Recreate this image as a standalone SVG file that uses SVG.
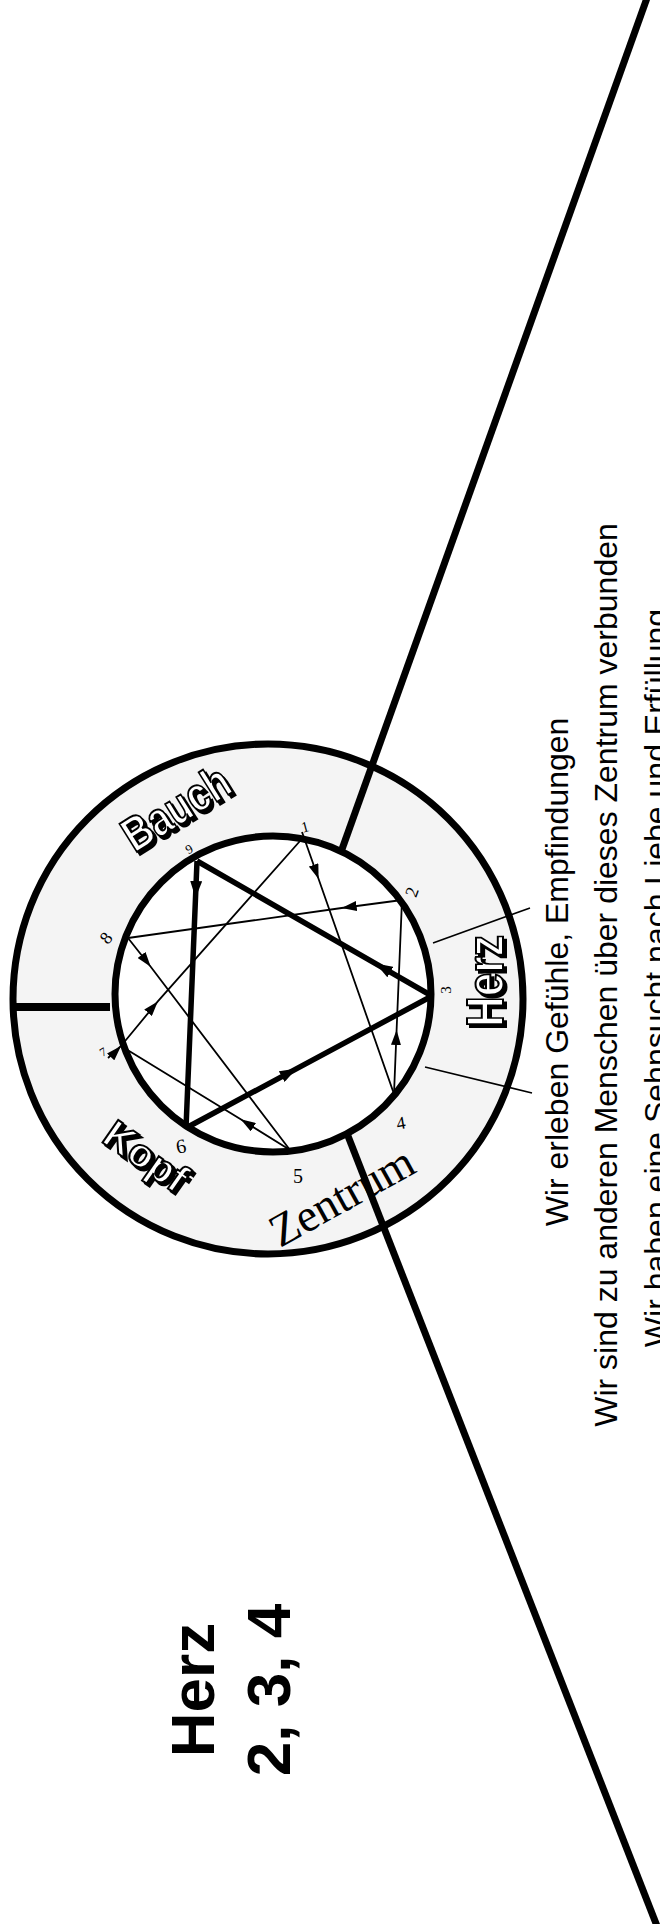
<svg xmlns="http://www.w3.org/2000/svg" width="660" height="1924" viewBox="0 0 660 1924">
<style>
.thick{fill:none;stroke:#000;stroke-width:5.5}
.thin{fill:none;stroke:#000;stroke-width:1.8}
.axis{fill:none;stroke:#000;stroke-width:7;stroke-linecap:butt}
.tick{fill:none;stroke:#000;stroke-width:1.6}
.num{font-family:"Liberation Serif",serif;fill:#000;text-anchor:middle;dominant-baseline:central}
.zone{font-family:"Liberation Sans",Arial,sans-serif;font-weight:bold;fill:#fff;stroke:#000;stroke-width:2;text-anchor:middle;dominant-baseline:central}
.body{font-family:"Liberation Sans",Arial,sans-serif;font-size:32px;fill:#000;text-anchor:middle}
.title{font-family:"Liberation Sans",Arial,sans-serif;font-size:62px;font-weight:bold;fill:#000;text-anchor:middle}
</style>
<defs>
<marker id="at" viewBox="0 0 15 10" refX="15" refY="5" markerWidth="15" markerHeight="10" markerUnits="userSpaceOnUse" orient="auto"><path d="M0,0 L15,5 L0,10 z" fill="#000"/></marker>
<marker id="aT" viewBox="0 0 17 12" refX="17" refY="6" markerWidth="17" markerHeight="12" markerUnits="userSpaceOnUse" orient="auto"><path d="M0,0 L17,6 L0,12 z" fill="#000"/></marker>
<filter id="sh" x="-30%" y="-30%" width="160%" height="160%"><feOffset in="SourceAlpha" dx="3" dy="3" result="o"/><feMerge><feMergeNode in="o"/><feMergeNode in="SourceGraphic"/></feMerge></filter>
</defs>
<rect width="660" height="1924" fill="#fff"/>

<g id="outer-ring">
<circle cx="268" cy="999" r="255" fill="#f4f4f4" stroke="#000" stroke-width="7"/>
</g>
<g id="inner-circle">
<circle cx="273" cy="994" r="158" fill="#fff" stroke="#000" stroke-width="7"/>
</g>

<g id="dividers">
<line class="axis" x1="647" y1="-2" x2="341" y2="852"/>
<line class="axis" x1="348" y1="1136" x2="657" y2="1926"/>
<line x1="13" y1="1007" x2="110" y2="1007" stroke="#000" stroke-width="8"/>
<line class="tick" x1="433" y1="943" x2="530" y2="908"/>
<line class="tick" x1="425" y1="1067" x2="532" y2="1093"/>
</g>

<g id="connectors">
<path class="thick" marker-mid="url(#aT)" d="M197,861 L195.5,898 L186,1128"/>
<path class="thick" marker-mid="url(#aT)" d="M186,1128 L296.7,1068.6 L432,996"/>
<path class="thick" marker-mid="url(#aT)" d="M432,996 L375.6,963.6 L197,861"/>
<path class="thin" marker-mid="url(#at)" d="M302,832 L318.6,879 L394,1094"/>
<path class="thin" marker-mid="url(#at)" d="M394,1094 L396.6,1030 L402,900"/>
<path class="thin" marker-mid="url(#at)" d="M402,900 L341.7,908 L128,938"/>
<path class="thin" marker-mid="url(#at)" d="M128,938 L150.7,966.8 L290,1150"/>
<path class="thin" marker-mid="url(#at)" d="M290,1150 L240.7,1119.3 L121,1046"/>
<path class="thin" marker-mid="url(#at)" d="M108,1058 L121,1046 L157.8,1001.4 L300,841"/>
</g>

<g id="point-labels">
<text class="num" font-size="15" transform="translate(305,827) rotate(-15)">1</text>
<text class="num" font-size="18" transform="translate(412,892) rotate(-70)">2</text>
<text class="num" font-size="15" transform="translate(446,990) rotate(-90)">3</text>
<text class="num" font-size="18" transform="translate(401,1123) rotate(-10)">4</text>
<text class="num" font-size="20" x="298" y="1176">5</text>
<text class="num" font-size="20" transform="translate(181,1146) rotate(-10)">6</text>
<text class="num" font-size="12" transform="translate(103,1052) rotate(-30)">7</text>
<text class="num" font-size="18" transform="translate(106,938) rotate(-50)">8</text>
<text class="num" font-size="13" transform="translate(189,849) rotate(-30)">9</text>
</g>

<g id="node-bauch" filter="url(#sh)">
<text class="zone" font-size="48" textLength="118" lengthAdjust="spacingAndGlyphs" transform="translate(176,808) rotate(-32)">Bauch</text>
</g>
<g id="node-herz" filter="url(#sh)">
<text class="zone" font-size="52" textLength="92" lengthAdjust="spacingAndGlyphs" transform="translate(485,981) rotate(-90)">Herz</text>
</g>
<g id="node-kopf" filter="url(#sh)">
<text class="zone" font-size="40" textLength="92" lengthAdjust="spacingAndGlyphs" transform="translate(146,1156) rotate(35)">Kopf</text>
</g>
<g id="node-zentrum">
<text font-family="Liberation Serif, serif" font-size="46" textLength="158" lengthAdjust="spacingAndGlyphs" transform="translate(280,1248) rotate(-29)">Zentrum</text>
</g>

<g id="description">
<text class="body" transform="translate(568,972) rotate(-90)">Wir erleben Gefühle, Empfindungen</text>
<text class="body" transform="translate(617,975) rotate(-90)">Wir sind zu anderen Menschen über dieses Zentrum verbunden</text>
<text class="body" transform="translate(667,978) rotate(-90)">Wir haben eine Sehnsucht nach Liebe und Erfüllung</text>
</g>

<g id="title">
<text class="title" transform="translate(214,1690) rotate(-90)">Herz</text>
<text class="title" transform="translate(290,1690) rotate(-90)">2, 3, 4</text>
</g>
</svg>
